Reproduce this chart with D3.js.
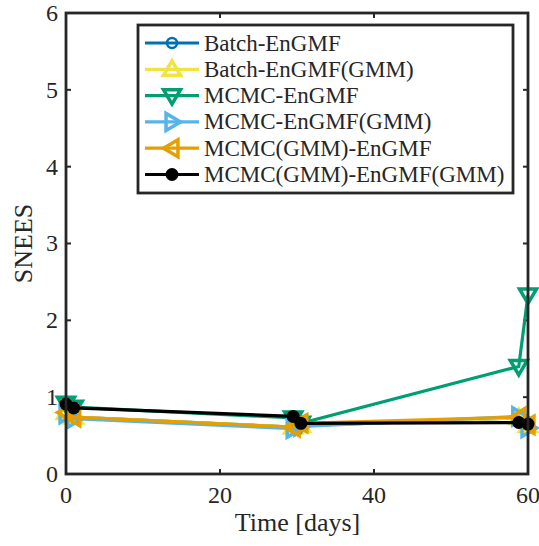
<!DOCTYPE html>
<html><head><meta charset="utf-8">
<script src="https://cdn.jsdelivr.net/npm/d3@7"></script>
<style>body{margin:0;background:#fff}svg{display:block}</style>
</head><body>
<svg id="chart" width="539" height="546"></svg>
<script>
const times = [0, 1, 29.5, 30.5, 58.8, 60];
const seriesNames = ["Batch-EnGMF","Batch-EnGMF(GMM)","MCMC-EnGMF","MCMC-EnGMF(GMM)","MCMC(GMM)-EnGMF","MCMC(GMM)-EnGMF(GMM)"];
const batchEnGMF      = [0.80, 0.74, 0.61, 0.63, 0.73, 0.63];
const batchEnGMFGMM   = [0.80, 0.74, 0.61, 0.63, 0.73, 0.63];
const mcmcEnGMF       = [0.92, 0.87, 0.73, 0.66, 1.40, 2.33];
const mcmcEnGMFGMM    = [0.78, 0.72, 0.59, 0.62, 0.75, 0.60];
const mcmcGMMEnGMF    = [0.80, 0.74, 0.61, 0.66, 0.74, 0.64];
const mcmcGMMEnGMFGMM = [0.91, 0.86, 0.75, 0.66, 0.67, 0.65];
const seriesValues = [batchEnGMF, batchEnGMFGMM, mcmcEnGMF, mcmcEnGMFGMM, mcmcGMMEnGMF, mcmcGMMEnGMFGMM];
const colors = ["#0072B2","#F0E442","#009E73","#56B4E9","#E69F00","#000000"];
const markers = ["circle","up","down","right","left","dot"];
const xTicks = [0, 20, 40, 60];
const yTicks = [0, 1, 2, 3, 4, 5, 6];

const font = '"Liberation Serif", "DejaVu Serif", serif';

const svg = d3.select("#chart");
const L = 66, R = 528, T = 13, B = 474;
const x = d3.scaleLinear().domain([0, 60]).range([L, R]);
const y = d3.scaleLinear().domain([0, 6]).range([B, T]);
const axisColor = "#262626";

const g = svg.append("g");
yTicks.forEach(v => {
  g.append("line").attr("x1", L).attr("x2", L + 5).attr("y1", y(v)).attr("y2", y(v)).attr("stroke", axisColor).attr("stroke-width", 2);
  g.append("line").attr("x1", R).attr("x2", R - 5).attr("y1", y(v)).attr("y2", y(v)).attr("stroke", axisColor).attr("stroke-width", 2);
  g.append("text").attr("x", L - 8).attr("y", y(v)).attr("dy", "0.33em").attr("text-anchor", "end")
    .style("font-family", font).attr("font-size", 24).attr("fill", axisColor).text(v);
});
xTicks.forEach(v => {
  g.append("line").attr("x1", x(v)).attr("x2", x(v)).attr("y1", B).attr("y2", B - 5).attr("stroke", axisColor).attr("stroke-width", 2);
  g.append("line").attr("x1", x(v)).attr("x2", x(v)).attr("y1", T).attr("y2", T + 5).attr("stroke", axisColor).attr("stroke-width", 2);
  g.append("text").attr("x", x(v)).attr("y", B + 29).attr("text-anchor", "middle")
    .style("font-family", font).attr("font-size", 24).attr("fill", axisColor).text(v);
});
svg.append("text").attr("x", (L + R) / 2 + 0.5).attr("y", 531).attr("text-anchor", "middle")
  .style("font-family", font).attr("font-size", 26).attr("fill", axisColor).text("Time [days]");
svg.append("text").attr("transform", `translate(32,${(T + B) / 2}) rotate(-90)`).attr("text-anchor", "middle")
  .style("font-family", font).attr("font-size", 26).attr("fill", axisColor).text("SNEES");

function drawMarker(sel, type, cx, cy, color) {
  const s = 8.5;
  if (type === "circle") {
    sel.append("circle").attr("cx", cx).attr("cy", cy).attr("r", 5).attr("fill", "none").attr("stroke", color).attr("stroke-width", 2.5);
  } else if (type === "dot") {
    sel.append("circle").attr("cx", cx).attr("cy", cy).attr("r", 6.5).attr("fill", color);
  } else {
    let pts;
    if (type === "up") pts = [[0, -s], [s, s * 0.7], [-s, s * 0.7]];
    if (type === "down") pts = [[0, s], [s, -s * 0.7], [-s, -s * 0.7]];
    if (type === "right") pts = [[s, 0], [-s * 0.7, s], [-s * 0.7, -s]];
    if (type === "left") pts = [[-s, 0], [s * 0.7, s], [s * 0.7, -s]];
    sel.append("polygon").attr("points", pts.map(p => [cx + p[0], cy + p[1]].join(",")).join(" "))
      .attr("fill", "none").attr("stroke", color).attr("stroke-width", 3.5).attr("stroke-linejoin", "miter");
  }
}

const line = d3.line().x((d, i) => x(times[i])).y(d => y(d));
seriesValues.forEach((vals, k) => {
  const sg = svg.append("g");
  sg.append("path").attr("d", line(vals)).attr("fill", "none").attr("stroke", colors[k]).attr("stroke-width", 3.2);
  vals.forEach((v, i) => drawMarker(sg, markers[k], x(times[i]), y(v), colors[k]));
});

svg.append("rect").attr("x", L).attr("y", T).attr("width", R - L).attr("height", B - T)
  .attr("fill", "none").attr("stroke", axisColor).attr("stroke-width", 2.8);

const lg = svg.append("g");
lg.append("rect").attr("x", 138).attr("y", 25).attr("width", 375).attr("height", 168)
  .attr("fill", "#fff").attr("stroke", axisColor).attr("stroke-width", 2.8);
seriesNames.forEach((name, k) => {
  const cy = 43 + k * 26.3;
  lg.append("line").attr("x1", 145).attr("x2", 199).attr("y1", cy).attr("y2", cy).attr("stroke", colors[k]).attr("stroke-width", 3.2);
  drawMarker(lg, markers[k], 172, cy, colors[k]);
  lg.append("text").attr("x", 204).attr("y", cy).attr("dy", "0.33em")
    .style("font-family", font).attr("font-size", 23).attr("fill", axisColor).text(name);
});
</script>
</body></html>
